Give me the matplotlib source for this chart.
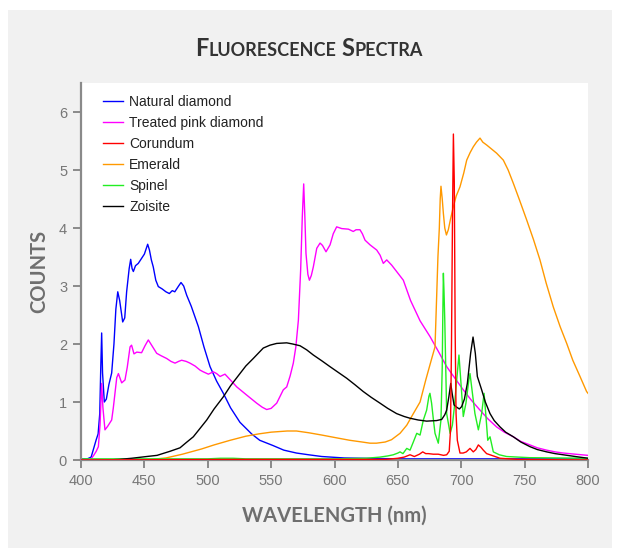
import matplotlib
matplotlib.use("Agg")
import matplotlib.pyplot as plt
from matplotlib.patches import Rectangle

# spectra: (wavelength nm, counts)
natural_diamond = [(400, 0.02), (405, 0.02), (408, 0.05), (410, 0.2), (412, 0.35), (413.5, 0.45), (414.8, 0.8),
                   (415.6, 1.6), (416.3, 2.19), (417.0, 1.5), (418.4, 1.0), (420, 1.05), (422, 1.3), (424.2, 1.5),
                   (426, 2.0), (427.5, 2.6), (429, 2.9), (430.5, 2.75), (432.9, 2.38), (434.5, 2.45), (436, 2.9),
                   (438, 3.3), (439.2, 3.46), (440.3, 3.3), (441.3, 3.25), (443, 3.35), (445.2, 3.39), (447, 3.45),
                   (450, 3.55), (452.6, 3.72), (454, 3.62), (455.5, 3.45), (457, 3.33), (459, 3.1), (461, 2.99),
                   (464, 2.95), (467, 2.9), (469.7, 2.87), (472, 2.92), (474, 2.9), (477, 3.0), (478.9, 3.06),
                   (481, 3.0), (483.4, 2.84), (487, 2.65), (492.6, 2.3), (497, 1.95), (501.8, 1.61), (507, 1.36),
                   (512.3, 1.15), (518, 0.9), (525.4, 0.65), (534.6, 0.45), (541, 0.34), (551.4, 0.25), (560, 0.17),
                   (570, 0.12), (579.6, 0.09), (590, 0.06), (607.7, 0.035), (650, 0.02), (700, 0.02), (800, 0.02)]

treated_pink = [(400, 0.0), (405, 0.0), (408, 0.02), (410, 0.08), (412, 0.15), (413.7, 0.23), (415, 0.6),
                (416.3, 1.32), (417.3, 0.9), (418.9, 0.52), (421, 0.58), (424.2, 0.69), (425.5, 0.9), (426.8, 1.15),
                (428.2, 1.42), (429.5, 1.49), (432.1, 1.33), (434.7, 1.38), (436.5, 1.6), (438.7, 1.95),
                (439.9, 1.98), (441.8, 1.83), (444, 1.86), (447.8, 1.85), (450.5, 1.97), (453.1, 2.07),
                (455.7, 1.98), (459.7, 1.84), (463, 1.8), (467.6, 1.75), (471, 1.7), (474.2, 1.67), (477, 1.7),
                (479.4, 1.72), (483, 1.7), (486, 1.67), (490, 1.62), (493.9, 1.55), (496.5, 1.52), (500.5, 1.48),
                (504.4, 1.52), (507, 1.49), (509.7, 1.44), (513.6, 1.48), (517, 1.4), (522.9, 1.26), (530.7, 1.12),
                (538.6, 0.98), (543, 0.91), (546.5, 0.87), (550, 0.89), (554.4, 0.98), (559.6, 1.21), (562.3, 1.26),
                (565, 1.45), (567.5, 1.67), (569.5, 1.95), (571.5, 2.41), (573.3, 3.28), (574.6, 4.2), (575.7, 4.76),
                (576.6, 4.2), (577.5, 3.56), (579, 3.2), (580.2, 3.10), (581.7, 3.18), (583.3, 3.33), (586, 3.65),
                (588.6, 3.74), (590.5, 3.7), (593.3, 3.59), (596.5, 3.71), (599, 3.9), (601.7, 4.02), (605.7, 3.99),
                (611, 3.98), (614.8, 3.94), (617, 3.97), (620.1, 3.97), (622, 3.9), (624.1, 3.79), (628, 3.71),
                (633.3, 3.62), (636, 3.53), (638.5, 3.39), (641.2, 3.45), (645.1, 3.36), (649, 3.25), (654.3, 3.10),
                (660, 2.75), (667.5, 2.4), (675.3, 2.13), (682, 1.87), (688.5, 1.61), (695, 1.41), (701.6, 1.21),
                (708, 1.03), (714.8, 0.86), (721, 0.71), (727.9, 0.57), (734, 0.48), (741.1, 0.40), (747, 0.32),
                (754.2, 0.26), (760, 0.21), (767.3, 0.17), (774, 0.14), (780.5, 0.12), (790, 0.1), (800, 0.08)]

corundum = [(400, 0.0), (520, 0.01), (640, 0.01), (650, 0.03), (655, 0.05), (659.6, 0.09), (663, 0.06), (667, 0.1),
            (669.6, 0.14), (672, 0.11), (674, 0.11), (678, 0.1), (681.9, 0.1), (686, 0.08), (688.5, 0.09),
            (690.5, 0.15), (691.5, 0.5), (692.3, 2.0), (693.1, 4.2), (693.8, 5.62), (694.5, 4.8), (695.2, 2.2),
            (695.9, 0.8), (696.9, 0.34), (699, 0.12), (701.5, 0.12), (704, 0.14), (706.9, 0.20), (709.5, 0.14),
            (711.5, 0.18), (713.5, 0.26), (715.5, 0.22), (717.4, 0.17), (720, 0.11), (722.7, 0.09), (730.6, 0.03),
            (745, 0.01), (800, 0.0)]

emerald = [(400, 0.0), (440, 0.0), (455, 0.01), (467, 0.035), (480, 0.1), (495.1, 0.19), (505, 0.26), (517.7, 0.34),
           (530, 0.41), (540.2, 0.45), (550, 0.48), (562.7, 0.5), (570, 0.5), (579.6, 0.47), (590, 0.43),
           (602.1, 0.38), (612, 0.34), (621.8, 0.31), (628, 0.29), (633.1, 0.29), (640, 0.31), (645, 0.35),
           (651.7, 0.46), (657, 0.6), (662.2, 0.80), (667.5, 1.0), (672, 1.38), (676.7, 1.75), (679.3, 1.95),
           (680.6, 2.82), (681.6, 3.5), (682.7, 4.0), (683.4, 4.5), (684, 4.72), (685, 4.5), (685.9, 4.25),
           (687, 4.0), (688.3, 3.88), (689.8, 3.97), (691.5, 4.15), (693.8, 4.37), (696, 4.55), (699, 4.71),
           (702, 4.95), (704.3, 5.17), (707, 5.3), (709.5, 5.40), (712, 5.48), (714.8, 5.55), (717, 5.48),
           (720.1, 5.43), (724, 5.36), (727.9, 5.29), (733.2, 5.17), (737, 5.0), (741.1, 4.77), (746, 4.48),
           (751.6, 4.14), (757, 3.8), (762.1, 3.45), (767, 3.05), (772.6, 2.64), (778, 2.3), (783.2, 2.01),
           (788, 1.72), (793.7, 1.44), (798.9, 1.18), (800, 1.15)]

spinel = [(400, 0.02), (500, 0.02), (510, 0.03), (520, 0.03), (530, 0.02), (600, 0.02), (625, 0.03), (635.9, 0.05),
          (642, 0.07), (646.4, 0.09), (650, 0.12), (651.7, 0.14), (654, 0.11), (657, 0.2), (659.6, 0.17),
          (662, 0.3), (664.9, 0.46), (667.5, 0.43), (670.1, 0.69), (672.7, 0.86), (674.5, 1.1), (675.3, 1.15),
          (676.6, 0.98), (678, 0.7), (679.3, 0.46), (681.9, 0.29), (684, 0.69), (685, 1.6), (685.4, 2.41),
          (685.9, 3.22), (686.4, 2.9), (687, 2.41), (688.5, 0.80), (691.2, 0.46), (693, 0.6), (694.5, 0.9),
          (696.4, 1.38), (698.2, 1.81), (699.8, 1.32), (701.6, 0.75), (703.7, 0.98), (706, 1.38), (706.9, 1.49),
          (708.2, 1.26), (710.8, 0.80), (713.5, 0.52), (716.1, 0.80), (718, 1.15), (719.5, 0.75), (720.9, 0.34),
          (722.7, 0.40), (725.3, 0.14), (730, 0.09), (735.8, 0.06), (754, 0.04), (800, 0.03)]

zoisite = [(400, 0.0), (420, 0.0), (430, 0.01), (440, 0.03), (451.8, 0.06), (460, 0.08), (470.2, 0.15),
           (478.1, 0.21), (483, 0.3), (488.6, 0.4), (493, 0.52), (499.2, 0.69), (505, 0.88), (512.3, 1.09),
           (518, 1.28), (525.4, 1.49), (530, 1.62), (535.9, 1.75), (543.8, 1.93), (549.1, 1.98), (554.4, 2.01),
           (562.3, 2.02), (567, 2.0), (572.8, 1.97), (578, 1.9), (583.3, 1.81), (590, 1.71), (596.4, 1.61),
           (603, 1.51), (609.6, 1.41), (616, 1.3), (622.7, 1.18), (629, 1.08), (635.9, 0.98), (642, 0.89),
           (649, 0.80), (655, 0.75), (659.6, 0.72), (666, 0.69), (672.7, 0.67), (680.6, 0.68), (684.6, 0.70),
           (687, 0.78), (688.5, 0.86), (690.3, 1.1), (691.7, 1.32), (692.8, 1.15), (694.3, 0.95), (696.4, 0.91),
           (698.5, 0.88), (700.3, 0.92), (702.5, 1.05), (704.8, 1.32), (706.2, 1.6), (707.4, 1.84), (709.3, 2.12),
           (711.1, 1.84), (712.7, 1.44), (716.1, 1.21), (719, 1.0), (722.7, 0.80), (726, 0.68), (730.6, 0.57),
           (735, 0.48), (741.1, 0.40), (747, 0.31), (754.2, 0.23), (760, 0.18), (767.4, 0.14), (774, 0.11),
           (780.5, 0.09), (790, 0.06), (800, 0.03)]

labels = ["Natural diamond", "Treated pink diamond", "Corundum", "Emerald", "Spinel", "Zoisite"]
colors = ["#0000ff", "#ff00ff", "#ff0000", "#ff9900", "#22ee22", "#000000"]
series = [natural_diamond, treated_pink, corundum, emerald, spinel, zoisite]

x_ticks = [400, 450, 500, 550, 600, 650, 700, 750, 800]
y_ticks = [0, 1, 2, 3, 4, 5, 6]

narrow = ["Liberation Sans Narrow", "Liberation Sans", "DejaVu Sans"]
heading = ["Lato", "DejaVu Sans"]
gray = "#777777"

fig = plt.figure(figsize=(6.18, 5.54), dpi=100)
fig.patch.set_facecolor("white")
fig.patches.append(Rectangle((8 / 618, 6 / 554), 604 / 618, 538 / 554, transform=fig.transFigure,
                             facecolor="#f1f1f1", edgecolor="none", zorder=-10))

ax = fig.add_axes([81 / 618, 94 / 554, 507 / 618, 377 / 554])
ax.set_facecolor("white")

for data, lab, col in zip(series, labels, colors):
    wl = [p[0] for p in data]
    ct = [p[1] for p in data]
    z = 5 if lab == "Corundum" else 2
    ax.plot(wl, ct, color=col, linewidth=1.0, label=lab, zorder=z)

ax.set_xlim(400, 800)
ax.set_ylim(0, 6.5)
ax.set_xticks(x_ticks)
ax.set_yticks(y_ticks)
for s in ["top", "right"]:
    ax.spines[s].set_visible(False)
for s in ["left", "bottom"]:
    ax.spines[s].set_color("#8a8a8a")
    ax.spines[s].set_linewidth(1.6)
ax.tick_params(direction="out", length=6, width=1.4, color="#8a8a8a", labelcolor=gray, labelsize=10.5, pad=4)
for t in ax.get_xticklabels() + ax.get_yticklabels():
    t.set_family(narrow)

leg = ax.legend(loc="upper left", bbox_to_anchor=(0.043, 0.968), frameon=False, borderpad=0, borderaxespad=0,
                handlelength=1.45, handletextpad=0.45, labelspacing=0.5, prop={"family": narrow, "size": 10})
for t in leg.get_texts():
    t.set_color("#222222")

ax.set_xlabel("WAVELENGTH (nm)", fontsize=14.5, fontweight="bold", color="#6e6e6e", family=heading, labelpad=13)
ax.set_ylabel("COUNTS", fontsize=14.5, fontweight="bold", color="#6e6e6e", family=heading, labelpad=7)

# title in small caps: big first letters, smaller rest
parts = [("F", 17), ("LUORESCENCE", 13), (" ", 13), ("S", 17), ("PECTRA", 13)]
renderer = fig.canvas.get_renderer()
texts = []
for s, size in parts:
    t = fig.text(0, 1 - 56 / 554, s, fontsize=size, fontweight="bold", color="#333333", family=heading,
                 ha="left", va="baseline")
    texts.append(t)
widths = []
for (s, size), t in zip(parts, texts):
    if s == " ":
        widths.append(size * 0.3 * 100 / 72)
    else:
        widths.append(t.get_window_extent(renderer).width)
start = 309 - sum(widths) / 2
for t, w in zip(texts, widths):
    t.set_x(start / 618)
    start += w

fig.savefig("out.png", dpi=100)
